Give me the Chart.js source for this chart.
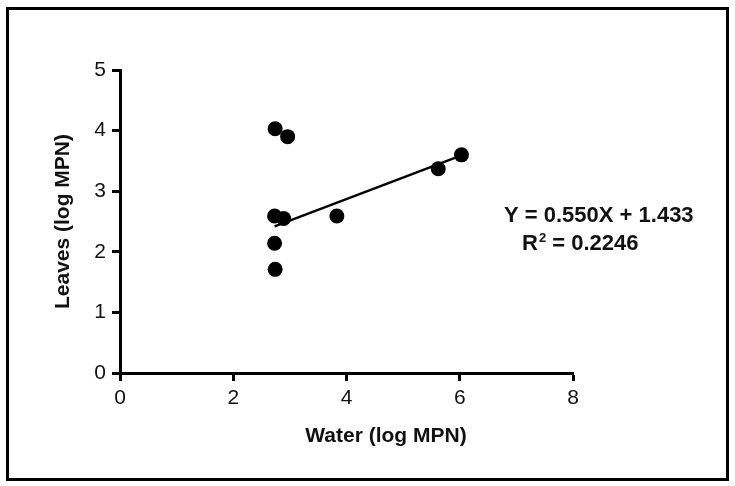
<!DOCTYPE html>
<html>
<head>
<meta charset="utf-8">
<script src="https://cdn.jsdelivr.net/npm/chart.js@4.4.1/dist/chart.umd.min.js"></script>
<style>
    body { margin: 0; background: #fff; }
    canvas { display: block; }
</style>
</head>
<body>
<canvas id="chart" width="735" height="486"></canvas>
<script>
// Values
const waterX = [2.74, 2.96, 2.73, 2.89, 3.83, 2.73, 2.74, 5.62, 6.03];
const leavesY = [4.03, 3.90, 2.59, 2.55, 2.59, 2.14, 1.71, 3.37, 3.60];

// Regression line as drawn (end points)
const fitX = [2.73, 6.03];
const fitY = [2.42, 3.59];

const xTicks = [0, 2, 4, 6, 8];
const yTicks = [0, 1, 2, 3, 4, 5];

const xTitle = "Water (log MPN)";
const yTitle = "Leaves (log MPN)";
const equation = "Y = 0.550X + 1.433";
const rSquared = "0.2246";

const FONT = "'Liberation Sans', Arial, sans-serif";

// Frame, x title and regression text
const extras = {
    id: "extras",
    beforeDraw(chart) {
        const ctx = chart.ctx;
        ctx.save();
        ctx.fillStyle = "#fff";
        ctx.fillRect(0, 0, chart.width, chart.height);
        ctx.restore();
    },
    afterDraw(chart) {
        const ctx = chart.ctx;
        ctx.save();
        ctx.strokeStyle = "#000";
        ctx.lineWidth = 3;
        ctx.strokeRect(7.5, 8.5, 720, 471);

        ctx.fillStyle = "#111";
        ctx.font = `bold 21px ${FONT}`;
        ctx.textBaseline = "alphabetic";
        ctx.textAlign = "center";
        ctx.fillText(xTitle, 386, 442);

        ctx.textAlign = "left";
        ctx.font = `bold 22px ${FONT}`;
        ctx.fillText(equation, 504, 222);
        ctx.fillText("R", 522, 250);
        const rw = ctx.measureText("R").width;
        ctx.font = `bold 13px ${FONT}`;
        ctx.fillText("2", 522 + rw + 1, 242);
        const sw = ctx.measureText("2").width;
        ctx.font = `bold 22px ${FONT}`;
        ctx.fillText(" = " + rSquared, 522 + rw + sw + 1, 250);
        ctx.restore();
    }
};

const points = waterX.map((x, i) => ({ x: x, y: leavesY[i] }));
const fitLine = fitX.map((x, i) => ({ x: x, y: fitY[i] }));

const ctx = document.getElementById("chart").getContext("2d");
new Chart(ctx, {
    type: "scatter",
    data: {
        datasets: [
            {
                label: "data",
                data: points,
                backgroundColor: "#000",
                borderWidth: 0,
                pointRadius: 7.5,
                pointHoverRadius: 7.5,
            },
            {
                type: "line",
                label: "fit",
                data: fitLine,
                borderColor: "#000",
                borderWidth: 2.5,
                pointRadius: 0,
                fill: false,
            },
        ],
    },
    options: {
        responsive: false,
        animation: false,
        layout: {
            padding: { left: 0, top: 70, right: 162, bottom: 0 },
        },
        plugins: {
            legend: { display: false },
            tooltip: { enabled: false },
        },
        scales: {
            x: {
                type: "linear",
                min: 0,
                max: 8,
                afterBuildTicks: (scale) => {
                    scale.ticks = xTicks.map(v => ({ value: v }));
                },
                afterFit: (scale) => {
                    scale.height = 113;
                },
                border: { color: "#000", width: 3 },
                grid: {
                    drawOnChartArea: false,
                    tickLength: 8,
                    tickWidth: 3,
                    tickColor: "#000",
                },
                ticks: {
                    color: "#111",
                    padding: 5,
                    font: { family: FONT, size: 21 },
                },
            },
            y: {
                type: "linear",
                min: 0,
                max: 5,
                afterBuildTicks: (scale) => {
                    scale.ticks = yTicks.map(v => ({ value: v }));
                },
                afterFit: (scale) => {
                    scale.width = 120;
                },
                border: { color: "#000", width: 3 },
                grid: {
                    drawOnChartArea: false,
                    tickLength: 8,
                    tickWidth: 3,
                    tickColor: "#000",
                },
                ticks: {
                    color: "#111",
                    padding: 6,
                    font: { family: FONT, size: 21 },
                },
                title: {
                    display: true,
                    text: yTitle,
                    color: "#111",
                    font: { family: FONT, size: 21, weight: "bold" },
                    padding: { top: 51, bottom: 0 },
                },
            },
        },
    },
    plugins: [extras],
});
</script>
</body>
</html>
